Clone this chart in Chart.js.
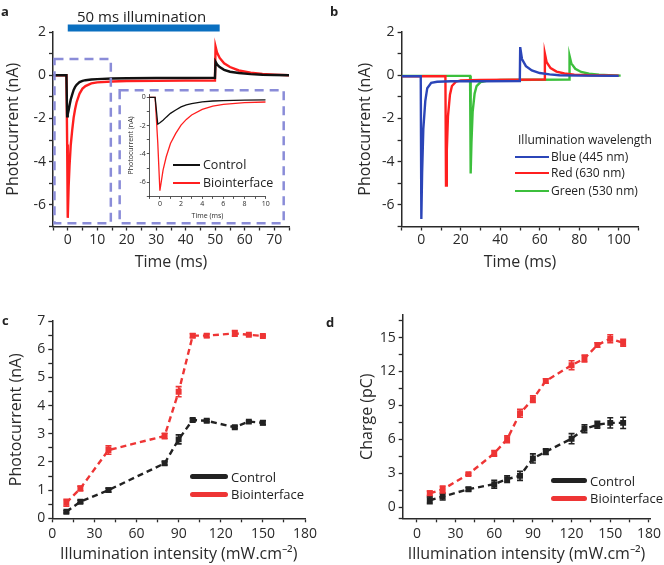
<!DOCTYPE html>
<html>
<head>
<meta charset="utf-8">
<script src="https://cdn.jsdelivr.net/npm/chart.js@4/dist/chart.umd.min.js"></script>
<style>
  html, body { margin: 0; padding: 0; background: #fff; overflow: hidden; }
  #fig { position: relative; width: 664px; height: 565px; font-family: "Open Sans", sans-serif; color: #222; }
  canvas { position: absolute; }
  .txt { position: absolute; white-space: nowrap; line-height: 1; transform: translateY(-50%); }
  .lab { font-weight: bold; font-size: 13px; }
  .key { position: absolute; height: 0; }
</style>
</head>
<body>
<div id="fig">
  <canvas id="chartA" width="332" height="290" style="left:0;top:0"></canvas>
  <canvas id="chartInset" width="155" height="136" style="left:125px;top:88px"></canvas>
  <canvas id="chartB" width="332" height="290" style="left:332px;top:0"></canvas>
  <canvas id="chartC" width="332" height="275" style="left:0;top:290px"></canvas>
  <canvas id="chartD" width="332" height="275" style="left:332px;top:290px"></canvas>

  <div class="txt lab" style="left:1px;top:11px">a</div>
  <div class="txt lab" style="left:330px;top:11px">b</div>
  <div class="txt lab" style="left:2px;top:320px">c</div>
  <div class="txt lab" style="left:326px;top:322px">d</div>

  <div class="txt" style="left:77px;top:16px;font-size:15px">50 ms illumination</div>

  <!-- legend a (inset) -->
  <div class="key" style="left:173px;top:164px;width:27px;border-top:2px solid #111"></div>
  <div class="txt" style="left:203px;top:165px;font-size:12.5px">Control</div>
  <div class="key" style="left:173px;top:182px;width:27px;border-top:2px solid #ff1f1f"></div>
  <div class="txt" style="left:203px;top:183px;font-size:12.5px">Biointerface</div>

  <!-- legend b -->
  <div class="txt" style="left:518px;top:140px;font-size:12px">Illumination wavelength</div>
  <div class="key" style="left:515px;top:156px;width:34px;border-top:2px solid #2b45b8"></div>
  <div class="txt" style="left:551px;top:157px;font-size:12px">Blue (445 nm)</div>
  <div class="key" style="left:515px;top:172px;width:34px;border-top:2px solid #ff1f1f"></div>
  <div class="txt" style="left:551px;top:173px;font-size:12px">Red (630 nm)</div>
  <div class="key" style="left:515px;top:190px;width:34px;border-top:2px solid #3cbf3c"></div>
  <div class="txt" style="left:551px;top:191px;font-size:12px">Green (530 nm)</div>

  <!-- legend c -->
  <div class="key" style="left:190px;top:474px;width:38px;border-top:5px solid #222;border-radius:3px"></div>
  <div class="txt" style="left:231px;top:477px;font-size:13px">Control</div>
  <div class="key" style="left:190px;top:492px;width:38px;border-top:5px solid #ee3535;border-radius:3px"></div>
  <div class="txt" style="left:231px;top:494px;font-size:13px">Biointerface</div>

  <!-- legend d -->
  <div class="key" style="left:551px;top:478px;width:36px;border-top:5px solid #222;border-radius:3px"></div>
  <div class="txt" style="left:590px;top:481px;font-size:13px">Control</div>
  <div class="key" style="left:551px;top:496px;width:36px;border-top:5px solid #ee3535;border-radius:3px"></div>
  <div class="txt" style="left:590px;top:498px;font-size:13px">Biointerface</div>
</div>

<script>
// ---- panel a: photocurrent traces (ms, nA)
const aTime = [-5, -0.45, -0.2, 0, 0.3, 0.6, 1, 1.5, 2, 2.5, 3, 4, 5, 6, 8, 10, 15, 20, 30, 40, 49.9, 50.1, 50.6, 51.5, 53, 55, 58, 62, 66, 70, 75];
const aControl = [0, 0, -1.9, -1.8, -1.62, -1.4, -1.13, -0.9, -0.68, -0.54, -0.44, -0.32, -0.26, -0.23, -0.2, -0.18, -0.15, -0.14, -0.13, -0.13, -0.12, 0.62, 0.5, 0.38, 0.25, 0.16, 0.1, 0.05, 0.02, 0.01, 0];
const aBio = [0, 0, -3.2, -6.6, -5.15, -4.2, -3.26, -2.55, -1.96, -1.56, -1.25, -0.85, -0.62, -0.5, -0.38, -0.33, -0.29, -0.27, -0.26, -0.25, -0.25, 1.33, 1.05, 0.8, 0.55, 0.38, 0.22, 0.12, 0.06, 0.03, 0];
const illumination = [0, 51.5]; // ms
const illumLevel = 2.18;
const zoomBox = [-4.5, 14.6, 0.75, -6.85];   // x0, x1, y0, y1
const insetBox = [17.6, 73.2, -0.7, -6.85];

// ---- panel b: wavelengths
const bBlueT = [-10, -0.3, 0, 0.4, 1, 2, 3, 5, 8, 15, 30, 49.9, 50.1, 51, 53, 56, 60, 65, 70, 80, 100];
const bBlue = [-0.05, -0.05, -6.65, -4.5, -2.5, -1.2, -0.6, -0.35, -0.3, -0.28, -0.28, -0.27, 1.3, 0.75, 0.42, 0.22, 0.1, 0.04, 0, -0.02, -0.03];
const bRedT = [-10, 12.2, 12.5, 12.9, 13.5, 14.5, 15.5, 17.5, 20, 30, 62.4, 62.6, 63.5, 65.5, 68.5, 72.5, 77.5, 85, 100];
const bRed = [-0.05, -0.05, -5.1, -3.5, -1.9, -0.9, -0.5, -0.3, -0.24, -0.22, -0.2, 1.0, 0.6, 0.33, 0.17, 0.08, 0.03, 0, -0.02];
const bGreenT = [-10, 24.7, 25, 25.4, 26, 27, 28, 30, 33, 40, 74.9, 75.1, 76, 78, 81, 85, 90, 95, 101];
const bGreen = [-0.03, -0.03, -4.55, -3.1, -1.7, -0.85, -0.5, -0.32, -0.26, -0.22, -0.2, 0.9, 0.55, 0.3, 0.15, 0.07, 0.02, 0, -0.02];

// ---- panel c: photocurrent vs intensity
const cIntensity = [10, 20, 40, 80, 90, 100, 110, 130, 140, 150];
const cControl = [0.23, 0.59, 1.0, 1.95, 2.8, 3.49, 3.46, 3.23, 3.43, 3.39];
const cControlErr = [0.04, 0.05, 0.07, 0.06, 0.16, 0.05, 0.04, 0.04, 0.03, 0.07];
const cBio = [0.55, 1.06, 2.42, 2.92, 4.49, 6.48, 6.48, 6.56, 6.51, 6.47];
const cBioErr = [0.12, 0.08, 0.15, 0.1, 0.18, 0.07, 0.06, 0.1, 0.02, 0.03];

// ---- panel d: charge vs intensity
const dIntensity = [10, 20, 40, 60, 70, 80, 90, 100, 120, 130, 140, 150, 160];
const dControl = [0.6, 0.92, 1.58, 2.02, 2.47, 2.76, 4.3, 4.9, 6.05, 6.92, 7.28, 7.45, 7.45];
const dControlErr = [0.3, 0.3, 0.15, 0.35, 0.3, 0.4, 0.4, 0.25, 0.45, 0.35, 0.3, 0.45, 0.5];
const dBio = [1.22, 1.55, 2.91, 4.75, 6.0, 8.3, 9.55, 11.16, 12.55, 13.15, 14.34, 14.9, 14.54];
const dBioErr = [0.2, 0.3, 0.1, 0.25, 0.3, 0.35, 0.3, 0.2, 0.4, 0.3, 0.2, 0.35, 0.3];

// ---- tick values
const aXTicks = [-5, 0, 5, 10, 15, 20, 25, 30, 35, 40, 45, 50, 55, 60, 65, 70, 75];
const aXLabels = [0, 10, 20, 30, 40, 50, 60, 70];
const abYTicks = [-7, -6, -5, -4, -3, -2, -1, 0, 1, 2];
const abYLabels = [-6, -4, -2, 0, 2];
const insetXTicks = [-1, 0, 1, 2, 3, 4, 5, 6, 7, 8, 9, 10];
const insetXLabels = [0, 2, 4, 6, 8, 10];
const insetYTicks = [-7, -6, -5, -4, -3, -2, -1, 0];
const insetYLabels = [-6, -4, -2, 0];
const bXTicks = [-10, 0, 10, 20, 30, 40, 50, 60, 70, 80, 90, 100, 110];
const bXLabels = [0, 20, 40, 60, 80, 100];
const cdXTicks = [0, 15, 30, 45, 60, 75, 90, 105, 120, 135, 150, 165, 180];
const cdXLabels = [0, 30, 60, 90, 120, 150, 180];
const cYTicks = [0, 0.5, 1, 1.5, 2, 2.5, 3, 3.5, 4, 4.5, 5, 5.5, 6, 6.5, 7];
const cYLabels = [0, 1, 2, 3, 4, 5, 6, 7];
const dYTicks = [-1, 0, 1.5, 3, 4.5, 6, 7.5, 9, 10.5, 12, 13.5, 15, 16.5];
const dYLabels = [0, 3, 6, 9, 12, 15];

const FONT = '"Open Sans", sans-serif';
const INK = '#2a2a2a';

const pts = (xs, ys) => xs.map((x, i) => ({ x: x, y: ys[i] }));

function axis(opts) {
  // fixed-size axis so the plot area lands where it should
  return {
    type: 'linear',
    min: opts.min, max: opts.max,
    afterBuildTicks: s => { s.ticks = opts.ticks.map(v => ({ value: v })); },
    afterFit: s => { if (opts.w) s.width = opts.w; if (opts.h) s.height = opts.h; },
    border: { display: true, color: INK, width: opts.bw || 1.5 },
    grid: { drawOnChartArea: false, drawTicks: true, tickLength: opts.tl || 4, tickColor: INK, tickWidth: opts.bw || 1.3 },
    ticks: {
      autoSkip: false, maxRotation: 0, padding: opts.tp == null ? 3 : opts.tp,
      color: INK, font: { family: FONT, size: opts.fs || 14 },
      callback: v => opts.labels.includes(v) ? String(v) : ''
    },
    title: {
      display: true, text: opts.title, color: INK,
      font: { family: FONT, size: opts.tfs || 16 },
      padding: opts.tpad || { top: 4, bottom: 4 }
    }
  };
}

const errorBars = {
  id: 'errorBars',
  afterDatasetsDraw(chart) {
    const ctx = chart.ctx, ys = chart.scales.y;
    chart.data.datasets.forEach((ds, i) => {
      if (!ds.errors) return;
      const meta = chart.getDatasetMeta(i);
      ctx.save();
      ctx.strokeStyle = ds.borderColor;
      ctx.lineWidth = 1.6;
      meta.data.forEach((p, j) => {
        const v = ds.data[j].y, e = ds.errors[j];
        const top = ys.getPixelForValue(v + e), bot = ys.getPixelForValue(v - e);
        ctx.beginPath();
        ctx.moveTo(p.x, top); ctx.lineTo(p.x, bot);
        ctx.moveTo(p.x - 3, top); ctx.lineTo(p.x + 3, top);
        ctx.moveTo(p.x - 3, bot); ctx.lineTo(p.x + 3, bot);
        ctx.stroke();
      });
      ctx.restore();
    });
  }
};

const dashedBoxes = {
  id: 'dashedBoxes',
  afterDatasetsDraw(chart) {
    const ctx = chart.ctx, xs = chart.scales.x, ys = chart.scales.y;
    ctx.save();
    ctx.strokeStyle = '#8a8cd8';
    ctx.lineWidth = 2.5;
    ctx.setLineDash([9, 6]);
    [zoomBox, insetBox].forEach(b => {
      const x0 = xs.getPixelForValue(b[0]), x1 = xs.getPixelForValue(b[1]);
      const y0 = ys.getPixelForValue(b[2]), y1 = ys.getPixelForValue(b[3]);
      ctx.strokeRect(x0, y0, x1 - x0, y1 - y0);
    });
    ctx.restore();
  }
};

const base = (padding) => ({
  responsive: false,
  animation: false,
  layout: { padding: padding },
  plugins: { legend: { display: false }, tooltip: { enabled: false } },
  elements: { point: { radius: 0 }, line: { tension: 0 } }
});

const trace = (xs, ys, color, w) => ({
  data: pts(xs, ys), borderColor: color, backgroundColor: color,
  borderWidth: w, pointRadius: 0, showLine: true
});

// ---------- a
new Chart(document.getElementById('chartA'), {
  type: 'scatter',
  data: {
    datasets: [
      trace(aTime, aControl, '#111111', 2.4),
      trace(aTime, aBio, '#ff1f1f', 2.4),
      Object.assign(trace(illumination, [illumLevel, illumLevel], '#0a6fc0', 7), { clip: false, borderCapStyle: 'butt' })
    ]
  },
  options: Object.assign(base({ left: 0, top: 32, right: 43, bottom: 14 }), {
    scales: {
      x: axis({ min: -5, max: 75, ticks: aXTicks, labels: aXLabels, h: 49.5, title: 'Time (ms)', tp: 1 }),
      y: axis({ min: -7, max: 2, ticks: abYTicks, labels: abYLabels, w: 53, title: 'Photocurrent (nA)' })
    }
  }),
  plugins: [dashedBoxes]
});

// ---------- a inset
new Chart(document.getElementById('chartInset'), {
  type: 'scatter',
  data: {
    datasets: [
      trace(aTime, aControl, '#111111', 1.3),
      trace(aTime, aBio, '#ff1f1f', 1.3)
    ]
  },
  options: Object.assign(base({ left: 0, top: 6.5, right: 14.3, bottom: 2 }), {
    scales: {
      x: axis({ min: -1, max: 10, ticks: insetXTicks, labels: insetXLabels, h: 25.6, title: 'Time (ms)',
                fs: 7, tfs: 7, tl: 2.5, bw: 0.8, tp: 1, tpad: { top: 2, bottom: 2 } }),
      y: axis({ min: -7, max: 0.2, ticks: insetYTicks, labels: insetYLabels, w: 24.3, title: 'Photocurrent (nA)',
                fs: 7, tfs: 7, tl: 2.5, bw: 0.8, tp: 1, tpad: { top: 2, bottom: 2 } })
    }
  })
});

// ---------- b
new Chart(document.getElementById('chartB'), {
  type: 'scatter',
  data: {
    datasets: [
      trace(bBlueT, bBlue, '#2b45b8', 2.4),
      trace(bRedT, bRed, '#ff1f1f', 2.4),
      trace(bGreenT, bGreen, '#3cbf3c', 2.4)
    ]
  },
  options: Object.assign(base({ left: 20, top: 32, right: 25.6, bottom: 14 }), {
    scales: {
      x: axis({ min: -10, max: 110, ticks: bXTicks, labels: bXLabels, h: 49.5, title: 'Time (ms)', tp: 1 }),
      y: axis({ min: -7, max: 2, ticks: abYTicks, labels: abYLabels, w: 49.6, title: 'Photocurrent (nA)' })
    }
  })
});

const series = (xs, ys, errs, color) => ({
  data: pts(xs, ys), errors: errs, borderColor: color, backgroundColor: color,
  borderWidth: 2.4, borderDash: [6, 4], pointStyle: 'rect', pointRadius: 2.5, showLine: true
});

// ---------- c
new Chart(document.getElementById('chartC'), {
  type: 'scatter',
  data: {
    datasets: [
      series(cIntensity, cControl, cControlErr, '#222222'),
      series(cIntensity, cBio, cBioErr, '#ee3535')
    ]
  },
  options: Object.assign(base({ left: 3, top: 31, right: 27, bottom: 0.5 }), {
    scales: {
      x: axis({ min: 0, max: 180, ticks: cdXTicks, labels: cdXLabels, h: 46.2, title: 'Illumination intensity (mW.cm\u207B\u00B2)', tpad: { top: 4, bottom: 0 } }),
      y: axis({ min: 0, max: 7, ticks: cYTicks, labels: cYLabels, w: 49.3, title: 'Photocurrent (nA)' })
    }
  }),
  plugins: [errorBars]
});

// ---------- d
new Chart(document.getElementById('chartD'), {
  type: 'scatter',
  data: {
    datasets: [
      series(dIntensity, dControl, dControlErr, '#222222'),
      series(dIntensity, dBio, dBioErr, '#ee3535')
    ]
  },
  options: Object.assign(base({ left: 21.4, top: 25, right: 13.3, bottom: 0.5 }), {
    scales: {
      x: axis({ min: -11, max: 181, ticks: cdXTicks, labels: cdXLabels, h: 46.2, title: 'Illumination intensity (mW.cm\u207B\u00B2)', tpad: { top: 4, bottom: 0 } }),
      y: axis({ min: -1, max: 17, ticks: dYTicks, labels: dYLabels, w: 49.3, title: 'Charge (pC)' })
    }
  }),
  plugins: [errorBars]
});
</script>
</body>
</html>
